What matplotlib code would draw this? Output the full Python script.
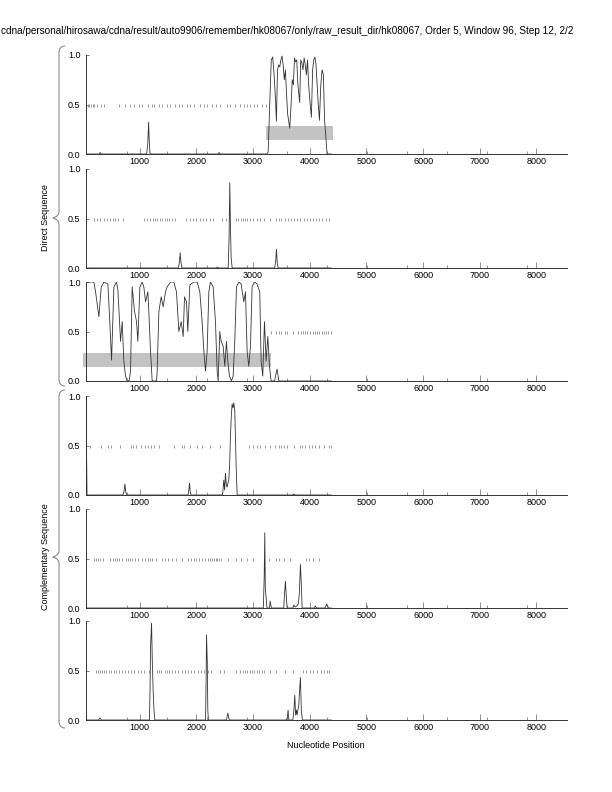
import matplotlib
matplotlib.use("Agg")
import matplotlib.pyplot as plt
from matplotlib.path import Path
from matplotlib.patches import PathPatch, Rectangle

title = ("cdna/personal/hirosawa/cdna/result/auto9906/remember/hk08067/only/"
         "raw_result_dir/hk08067, Order 5, Window 96, Step 12, 2/2")

# score curves, one per panel (nucleotide position, score)
x1 = [50, 280, 300, 320, 1120, 1140, 1155, 1165, 1180, 2380, 2400, 2420, 3240, 3265, 3290,
      3320, 3345, 3370, 3395, 3411, 3430, 3450, 3470, 3490, 3510, 3530, 3550, 3570, 3590,
      3610, 3646, 3670, 3690, 3710, 3730, 3750, 3770, 3790, 3822, 3840, 3860, 3880, 3900,
      3920, 3940, 3960, 3980, 4000, 4028, 4050, 4070, 4090, 4110, 4130, 4150, 4170, 4195,
      4217, 4240, 4260, 4280, 4305, 4380]
y1 = [0, 0, 0.015, 0, 0, 0.1, 0.32, 0.15, 0, 0, 0.015, 0, 0, 0.02, 0.45,
      0.95, 0.98, 0.8, 0.55, 0.33, 0.85, 0.9, 0.88, 0.95, 0.99, 0.9, 0.75, 0.85, 0.6,
      0.4, 0.26, 0.5, 0.75, 0.7, 0.97, 0.93, 0.95, 0.7, 0.52, 0.95, 0.92, 0.85, 0.97,
      0.9, 0.8, 0.95, 0.7, 0.55, 0.37, 0.85, 0.95, 0.98, 0.9, 0.7, 0.5, 0.34, 0.7,
      0.85, 0.8, 0.35, 0.2, 0.0, 0]

x2 = [50, 1680, 1700, 1712, 1725, 1745, 2350, 2370, 2390, 2560, 2575, 2588, 2600, 2612,
      2630, 3380, 3400, 3411, 3425, 3440, 4380]
y2 = [0, 0, 0.06, 0.155, 0.06, 0, 0, 0.01, 0, 0, 0.3, 0.86, 0.4, 0.1,
      0, 0, 0.08, 0.19, 0.06, 0, 0]

x3 = [50, 189, 219, 277, 319, 366, 436, 470, 501, 542, 589, 613, 660, 689, 718, 748, 777,
      810, 836, 865, 907, 942, 965, 1001, 1042, 1071, 1101, 1142, 1159, 1189, 1218, 1295,
      1306, 1336, 1377, 1412, 1453, 1483, 1542, 1600, 1647, 1689, 1730, 1765, 1789, 1824,
      1847, 1883, 1953, 2012, 2059, 2100, 2130, 2159, 2188, 2218, 2247, 2294, 2335, 2365,
      2382, 2412, 2435, 2471, 2500, 2529, 2553, 2582, 2618, 2647, 2676, 2706, 2747, 2788,
      2835, 2865, 2894, 2923, 2953, 2982, 3023, 3070, 3117, 3141, 3170, 3200, 3229, 3259,
      3288, 3317, 3380, 3394, 3423, 3453, 4380]
y3 = [1.0, 1.0, 0.9, 0.65, 0.95, 1.0, 0.98, 0.6, 0.21, 0.95, 1.0, 0.92, 0.4, 0.6, 0.2, 0.05, 0.0,
      0.0, 0.1, 0.95, 0.7, 0.6, 0.4, 0.95, 1.0, 0.95, 0.8, 0.9, 0.7, 0.3, 0.0, 0.0,
      0.1, 0.7, 0.85, 0.75, 0.9, 0.95, 1.0, 1.0, 0.9, 0.5, 0.6, 0.45, 0.85, 0.8,
      0.5, 0.97, 1.0, 1.0, 0.9, 0.6, 0.3, 0.1, 0.3, 0.9, 1.0, 0.95, 0.6, 0.1,
      0.0, 0.5, 0.4, 0.35, 0.15, 0.4, 0.2, 0.05, 0.0, 0.05, 0.4, 0.95, 1.0, 0.98,
      0.8, 0.9, 0.3, 0.15, 0.35, 0.95, 1.0, 0.98, 0.9, 0.2, 0.05, 0.6, 0.2, 0.45,
      0.15, 0.0, 0.0, 0.05, 0.12, 0.0, 0.0]

x4 = [50, 52, 58, 68, 700, 720, 736, 752, 770, 1850, 1865, 1877, 1890, 1905, 2460, 2482,
      2497, 2512, 2527, 2541, 2555, 2570, 2585, 2600, 2615, 2629, 2645, 2659, 2676, 2700,
      2718, 3700, 3717, 3735, 4380]
y4 = [0.0, 0.97, 0.55, 0.0, 0.0, 0.03, 0.11, 0.03, 0.0, 0.0, 0.05, 0.12, 0.03, 0.0, 0.0, 0.15,
      0.05, 0.22, 0.1, 0.08, 0.12, 0.15, 0.3, 0.6, 0.8, 0.92, 0.88, 0.93, 0.85, 0.3,
      0.0, 0.0, 0.01, 0.0, 0.0]

x5 = [50, 3180, 3195, 3206, 3215, 3230, 3245, 3290, 3300, 3315, 3330, 3540, 3555, 3570,
      3585, 3600, 3700, 3720, 3740, 3770, 3785, 3800, 3815, 3835, 3850, 3865, 4080, 4100,
      4120, 4270, 4300, 4330, 4380]
y5 = [0, 0.0, 0.3, 0.76, 0.2, 0.1, 0.0, 0.0, 0.07, 0.02, 0.0, 0.0, 0.15, 0.27,
      0.12, 0.0, 0.0, 0.03, 0.01, 0.02, 0.03, 0.05, 0.15, 0.44, 0.25, 0.0, 0.0, 0.02,
      0.0, 0.0, 0.04, 0.0, 0.0]

x6 = [50, 270, 295, 320, 1170, 1180, 1190, 1207, 1220, 1235, 1250, 1265, 2160, 2170, 2177,
      2190, 2200, 2210, 2530, 2553, 2580, 3590, 3605, 3617, 3630, 3700, 3720, 3735, 3750,
      3765, 3776, 3790, 3805, 3820, 3835, 3850, 3870, 4380]
y6 = [0, 0, 0.02, 0, 0, 0.3, 0.75, 0.98, 0.6, 0.3, 0.1, 0, 0, 0.4, 0.86,
      0.6, 0.1, 0, 0, 0.07, 0, 0, 0.03, 0.1, 0.0, 0.0, 0.1, 0.25, 0.05,
      0.1, 0.05, 0.1, 0.15, 0.3, 0.43, 0.1, 0.0, 0.0]

# marker positions drawn as short dashes at 0.5
m1 = [80, 110, 140, 170, 200, 250, 310, 360, 625, 742, 830, 889, 977, 1036, 1153, 1212,
      1253, 1330, 1389, 1477, 1536, 1624, 1683, 1742, 1830, 1889, 1948, 2066, 2124, 2183,
      2271, 2348, 2418, 2536, 2595, 2683, 2771, 2830, 2889, 2948, 3007, 3066, 3154, 3230]
m2 = [190, 250, 300, 360, 420, 470, 520, 560, 610, 700, 1080, 1130, 1180, 1230, 1270,
      1310, 1350, 1400, 1440, 1480, 1520, 1570, 1620, 1820, 1880, 1940, 2000, 2060, 2110,
      2170, 2230, 2300, 2450, 2520, 2700, 2740, 2780, 2820, 2860, 2900, 2950, 3000, 3060,
      3130, 3200, 3290, 3400, 3450, 3500, 3560, 3610, 3660, 3720, 3780, 3830, 3890, 3950,
      4010, 4060, 4110, 4160, 4220, 4280, 4340]
m3 = [3310, 3400, 3460, 3500, 3560, 3600, 3700, 3800, 3850, 3880, 3910, 3950, 4010, 4050,
      4090, 4130, 4170, 4210, 4250, 4290, 4330, 4380]
m4 = [119, 307, 436, 483, 648, 836, 883, 930, 1012, 1083, 1142, 1189, 1259, 1336, 1612,
      1747, 1777, 1883, 2012, 2100, 2247, 2424, 2923, 2999, 3070, 3129, 3217, 3306, 3394,
      3453, 3494, 3541, 3600, 3717, 3823, 3864, 3923, 3982, 4040, 4099, 4158, 4246, 4335,
      4382]
m5 = [189, 230, 260, 290, 350, 470, 530, 570, 600, 640, 680, 760, 800, 830, 870, 920,
      960, 1040, 1100, 1150, 1180, 1220, 1280, 1400, 1450, 1500, 1560, 1640, 1750, 1850,
      1900, 1950, 2000, 2050, 2100, 2150, 2200, 2240, 2280, 2310, 2340, 2370, 2400, 2430,
      2560, 2700, 2780, 2900, 3000, 3190, 3280, 3400, 3460, 3550, 3650, 3930, 3990, 4050,
      4160]
m6 = [219, 260, 300, 330, 360, 400, 450, 500, 540, 580, 630, 680, 740, 800, 840, 900,
      960, 1020, 1080, 1170, 1300, 1340, 1380, 1440, 1480, 1520, 1560, 1620, 1680, 1740,
      1800, 1850, 1900, 1960, 2020, 2080, 2140, 2200, 2260, 2420, 2480, 2700, 2760, 2820,
      2860, 2900, 2940, 2980, 3020, 3060, 3100, 3150, 3200, 3300, 3400, 3560, 3700, 3880,
      3930, 4000, 4060, 4120, 4200, 4250, 4300, 4335]

# shaded regions (start, end) per panel
regions = {0: (3235, 4404), 2: (-10, 3317)}

curves = [(x1, y1), (x2, y2), (x3, y3), (x4, y4), (x5, y5), (x6, y6)]
markers = [m1, m2, m3, m4, m5, m6]

major_ticks = [1000, 2000, 3000, 4000, 5000, 6000, 7000, 8000]
minor_ticks = [774, 1480, 2186, 2892, 3598, 4304, 5010, 5716, 6422, 7127, 7833]

plt.rcParams.update({
    "font.family": ["Liberation Sans", "DejaVu Sans"],
    "font.size": 6.5,
})

W, H = 612, 792
fig = plt.figure(figsize=(W / 100, H / 100), dpi=100)

def fx(px):
    return px / W

def fy(py):
    return 1 - py / H

left, right = 86, 567
bottoms = [154, 268, 381, 495, 608, 720]
ph = 99

for i, (xs, ys) in enumerate(curves):
    ax = fig.add_axes([fx(left), fy(bottoms[i]), fx(right) - fx(left), ph / H])
    ax.set_xlim(50, 8540)
    ax.set_ylim(0, 1)
    if i in regions:
        a, b = regions[i]
        ax.add_patch(Rectangle((a, 0.145), b - a, 0.14, facecolor="#c3c3c3",
                               edgecolor="none", clip_on=False, zorder=1))
    ax.vlines(markers[i], 0.475, 0.51, color="0.55", lw=0.6, zorder=2)
    ax.plot(xs, ys, color="0.2", lw=0.6, zorder=3)
    for s in ["top", "right"]:
        ax.spines[s].set_visible(False)
    for s in ["left", "bottom"]:
        ax.spines[s].set_linewidth(0.7)
        ax.spines[s].set_color("0.2")
    ax.set_xticks(major_ticks)
    ax.set_xticks(minor_ticks, minor=True)
    ax.set_yticks([0.0, 0.5, 1.0])
    ax.set_yticklabels(["0.0", "0.5", "1.0"])
    ax.tick_params(axis="x", which="major", direction="in", length=4, width=0.6,
                   color="0.5", pad=2, labelsize=6.5)
    ax.tick_params(axis="x", which="minor", direction="in", length=2, width=0.6,
                   color="0.5")
    ax.tick_params(axis="y", direction="in", length=2, width=0.6, color="0.4",
                   pad=4, labelsize=6.5)

fig.text(fx(1), fy(31), title, ha="left", va="center", fontsize=7.2)

fig.text(fx(326), fy(745), "Nucleotide Position", ha="center", va="center", fontsize=6.5)
fig.text(fx(45), fy(218), "Direct Sequence", ha="center", va="center",
         rotation=90, fontsize=6.5)
fig.text(fx(45), fy(557), "Complementary Sequence", ha="center", va="center",
         rotation=90, fontsize=6.5)

# curly braces grouping the panels
def brace(top, mid, bot):
    xv, xt, xp = 59, 65, 53
    pts = [(xt, top), (xv, top), (xv, top + 7),
           (xv, mid - 6), (xv, mid - 2), (xp, mid),
           (xv, mid + 2), (xv, mid + 6),
           (xv, bot - 7), (xv, bot), (xt, bot)]
    codes = [Path.MOVETO, Path.CURVE3, Path.CURVE3,
             Path.LINETO, Path.CURVE3, Path.CURVE3,
             Path.CURVE3, Path.CURVE3,
             Path.LINETO, Path.CURVE3, Path.CURVE3]
    verts = [(fx(a), fy(b)) for a, b in pts]
    fig.add_artist(PathPatch(Path(verts, codes), transform=fig.transFigure,
                             facecolor="none", edgecolor="0.55", lw=0.8))

brace(46, 218, 386)
brace(390, 557, 728)

plt.savefig("out.png", dpi=100)
